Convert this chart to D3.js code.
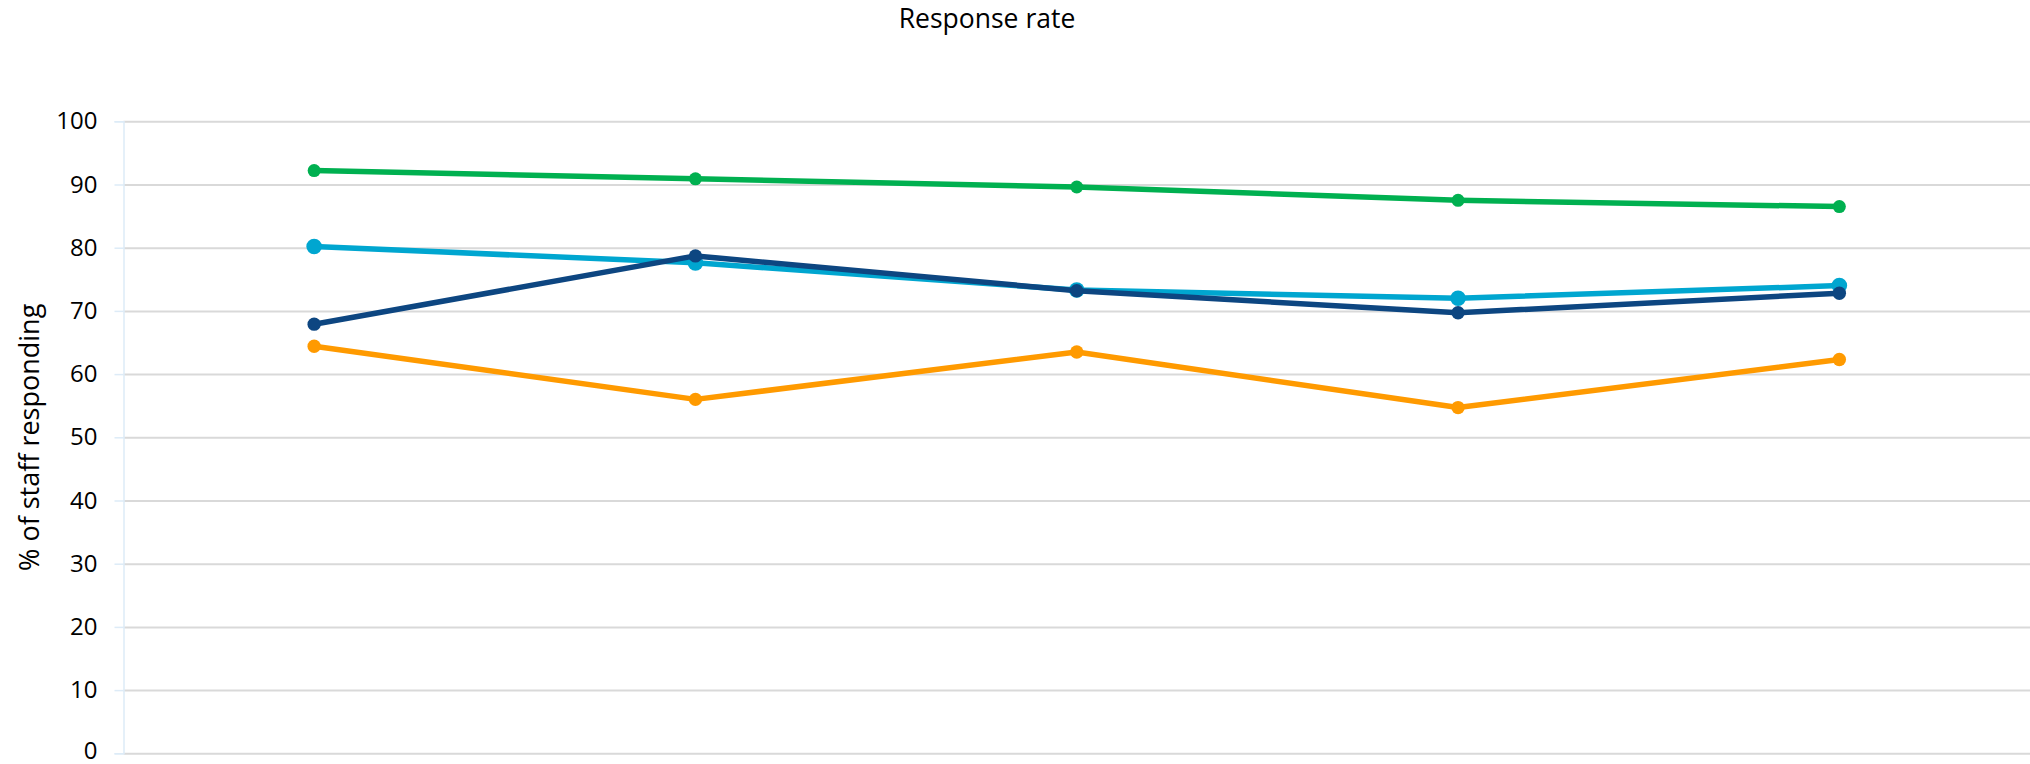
<!DOCTYPE html>
<html>
<head>
<meta charset="utf-8">
<script src="https://cdn.jsdelivr.net/npm/d3@7"></script>
<style>
  html, body { margin: 0; padding: 0; background: #ffffff; }
  svg { display: block; }
  text { font-family: "Open Sans", "Noto Sans", sans-serif; fill: #000; }
</style>
</head>
<body>
<svg id="chart" width="2030" height="764"></svg>
<script>
// ---- data ----
const categories = ["Survey 1", "Survey 2", "Survey 3", "Survey 4", "Survey 5"];
const yTicks = [0, 10, 20, 30, 40, 50, 60, 70, 80, 90, 100];

const seriesGreen     = [92.2, 90.9, 89.6, 87.5, 86.5];
const seriesLightBlue = [80.2, 77.6, 73.3, 72.0, 74.0];
const seriesDarkBlue  = [67.9, 78.7, 73.2, 69.7, 72.8];
const seriesOrange    = [64.4, 56.0, 63.5, 54.7, 62.3];

const seriesNames  = ["Group A", "Group B", "Group C", "Group D"];
const seriesColors = ["#00B050", "#00A6D0", "#0D4681", "#FF9A00"];

const chartTitle = "Response rate";
const yAxisTitle = "% of staff responding";

// ---- layout ----
const svg = d3.select("#chart");
const plot = { left: 123.5, right: 2030, top: 121.3, bottom: 753.3 };

const x = d3.scaleBand().domain(categories).range([plot.left, plot.right]).padding(0);
const y = d3.scaleLinear().domain([0, 100]).range([plot.bottom, plot.top]);

// gridlines
const gridAxis = d3.axisLeft(y).tickValues(yTicks).tickSize(-(plot.right - plot.left)).tickFormat("");
const grid = svg.append("g").attr("transform", `translate(${plot.left},0)`).call(gridAxis);
grid.select(".domain").remove();
grid.selectAll(".tick line").attr("stroke", "#D9D9D9").attr("stroke-width", 2);

// y axis (faint line + small outer ticks + labels)
const yAxis = d3.axisLeft(y).tickValues(yTicks).tickSize(9).tickPadding(17).tickFormat(d3.format("d"));
const ya = svg.append("g").attr("transform", `translate(${plot.left},0)`).call(yAxis);
ya.select(".domain").attr("stroke", "#DDEBF7").attr("stroke-width", 1.5);
ya.selectAll(".tick line").attr("stroke", "#DDEBF7").attr("stroke-width", 1.5);
ya.selectAll(".tick text")
  .attr("font-size", 24)
  .attr("font-family", "'Open Sans', sans-serif")
  .attr("fill", "#000")
  .attr("dy", d => d === 0 ? "0.22em" : "0.32em");

// series
const allSeries = [seriesGreen, seriesLightBlue, seriesDarkBlue, seriesOrange];
const radii = [6.5, 7.8, 6.7, 6.7];
const line = d3.line()
  .x((d, i) => x(categories[i]) + x.bandwidth() / 2)
  .y(d => y(d));

const drawOrder = [3, 0, 1, 2];
drawOrder.forEach(si => {
  const vals = allSeries[si];
  const g = svg.append("g").attr("class", "series").attr("data-name", seriesNames[si]);
  g.append("path")
    .datum(vals)
    .attr("d", line)
    .attr("fill", "none")
    .attr("stroke", seriesColors[si])
    .attr("stroke-width", 5.5)
    .attr("stroke-linejoin", "round");
  g.selectAll("circle")
    .data(vals)
    .join("circle")
    .attr("cx", (d, i) => x(categories[i]) + x.bandwidth() / 2)
    .attr("cy", d => y(d))
    .attr("r", radii[si])
    .attr("fill", seriesColors[si]);
});

// title
svg.append("text")
  .attr("x", 987)
  .attr("y", 28)
  .attr("text-anchor", "middle")
  .attr("font-size", 26.5)
  .text(chartTitle);

// y axis title
svg.append("text")
  .attr("transform", `translate(39,${(plot.top + plot.bottom) / 2}) rotate(-90)`)
  .attr("text-anchor", "middle")
  .attr("font-size", 27)
  .text(yAxisTitle);
</script>
</body>
</html>
